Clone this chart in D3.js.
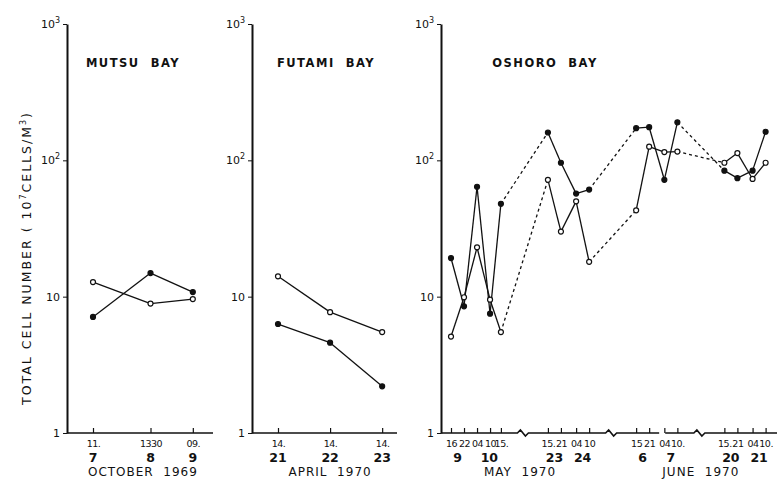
<!DOCTYPE html>
<meta charset="utf-8">
<style>
body { margin: 0; background: #fff; }
svg text { font-family: "DejaVu Sans", sans-serif; fill: #111; }
.line { fill: none; stroke: #111; stroke-width: 1.3px; }
.dash { stroke-dasharray: 3,3; }
.axis path, .axis line { stroke: #111; }
.axis .domain { stroke-width: 2px; }
.xline { fill: none; stroke: #111; stroke-width: 1.6px; }
</style>
<body>
<script src="https://d3js.org/d3.v7.min.js"></script>
<script>

// values, 10^7 cells / m^3 (log axis)
var mutsuTimes = ["1969-10-07 11:00", "1969-10-08 13:30", "1969-10-09 09:00"];
var mutsuHours = ["11.", "1330", "09."];
var mutsuFilled = [7.1, 14.9, 10.8];
var mutsuOpen = [12.8, 8.9, 9.6];

var futamiTimes = ["1970-04-21 14:00", "1970-04-22 14:00", "1970-04-23 14:00"];
var futamiHours = ["14.", "14.", "14."];
var futamiFilled = [6.3, 4.6, 2.2];
var futamiOpen = [14.1, 7.7, 5.5];

var oshoroTimes = [
  "1970-05-09 16:00", "1970-05-09 22:00", "1970-05-10 04:00", "1970-05-10 10:00", "1970-05-10 15:00",
  "1970-05-23 15:00", "1970-05-23 21:00", "1970-05-24 04:00", "1970-05-24 10:00",
  "1970-06-06 15:00", "1970-06-06 21:00", "1970-06-07 04:00", "1970-06-07 10:00",
  "1970-06-20 15:00", "1970-06-20 21:00", "1970-06-21 04:00", "1970-06-21 10:00"];
var oshoroHours = ["16", "22", "04", "10", "15.", "15.", "21", "04", "10",
  "15", "21", "04", "10.", "15.", "21", "04", "10."];
var oshoroFilled = [19.2, 8.5, 64, 7.5, 48, 160, 96, 57, 61, 172, 175, 72, 190, 84, 74, 84, 162];
var oshoroOpen = [5.1, 9.9, 23, 9.5, 5.5, 72, 30, 50, 18, 43, 126, 115, 116, 96, 113, 73, 96];
var oshoroAxisGaps = ["1970-06-07 03:00"];

var yTicks = [1, 10, 100, 1000];

var width = 777, height = 479;
var yTop = 24, yBottom = 433;
var pxPerHour = 2.17;
var breakAfter = 3 * 864e5;   // sampling runs further apart than this sit on a broken axis
var parse = d3.timeParse("%Y-%m-%d %H:%M");

var svg = d3.select("body").append("svg")
    .attr("width", width)
    .attr("height", height);

var y = d3.scaleLog().domain([1, 1000]).range([yBottom, yTop]);

// y axis title
svg.append("text")
    .attr("transform", "translate(31,259) rotate(-90)")
    .attr("text-anchor", "middle")
    .attr("textLength", 292)
    .attr("lengthAdjust", "spacing")
    .style("font-size", "12.5px")
    .html('TOTAL  CELL  NUMBER   ( 10<tspan dy="-5" font-size="8">7</tspan><tspan dy="5">CELLS/M</tspan><tspan dy="-5" font-size="8">3</tspan><tspan dy="5">)</tspan>');

function panel(p) {
  var times = p.times.map(parse);

  var groups = [];
  times.forEach(function(t, i) {
    if (i === 0 || t - times[i - 1] > breakAfter) groups.push([]);
    groups[groups.length - 1].push(i);
  });
  var dom = [], rng = [], cursor = p.axisX + p.inset;
  groups.forEach(function(g) {
    var a = times[g[0]], b = times[g[g.length - 1]];
    dom.push(a, b);
    rng.push(cursor, cursor + pxPerHour * (b - a) / 36e5);
    cursor = rng[rng.length - 1] + p.gap;
  });
  var x = d3.scaleTime().domain(dom).range(rng);

  // y axis
  var ya = svg.append("g")
      .attr("class", "axis")
      .attr("transform", "translate(" + p.axisX + ",0)")
      .call(d3.axisLeft(y).tickValues(yTicks).tickSize(4).tickSizeOuter(0).tickPadding(3));
  ya.selectAll(".tick text").each(function(d) {
    var t = d3.select(this).text(null).style("font-size", "11px");
    if (d < 100) { t.text(d); return; }
    t.text("10");
    t.append("tspan").attr("dy", -5).style("font-size", "8px").text(Math.round(Math.log10(d)));
  });

  // x axis line with breaks
  var events = [];
  for (var k = 1; k < groups.length; k++) events.push({x: (rng[2 * k - 1] + rng[2 * k]) / 2, zig: true});
  (p.axisGaps || []).forEach(function(s) { events.push({x: x(parse(s)), zig: false}); });
  events.sort(function(a, b) { return a.x - b.x; });
  var d = "M" + p.axisX + "," + yBottom;
  events.forEach(function(e) {
    if (e.zig) d += "L" + (e.x - 7) + "," + yBottom + "l3,-3l5,6l3,-3";
    else d += "L" + (e.x - 3) + "," + yBottom + "M" + (e.x + 3) + "," + yBottom;
  });
  d += "L" + p.axisEnd + "," + yBottom;
  svg.append("path").attr("class", "xline").attr("d", d);

  // hour ticks
  var xa = svg.append("g")
      .attr("class", "axis")
      .attr("transform", "translate(0," + yBottom + ")")
      .call(d3.axisBottom(x).tickValues(times).tickSizeInner(-5).tickSizeOuter(0).tickPadding(7)
        .tickFormat(function(d, i) { return p.hours[i]; }));
  xa.select(".domain").remove();
  xa.selectAll(".tick line").style("stroke-width", "1.2px");
  xa.selectAll(".tick text").style("font-size", "9.5px").style("letter-spacing", "-0.5px");

  // day labels
  var fmtDay = d3.timeFormat("%Y-%m-%d");
  d3.groups(times, fmtDay).forEach(function(g) {
    svg.append("text")
        .attr("x", d3.mean(g[1], x))
        .attr("y", 462)
        .attr("text-anchor", "middle")
        .style("font-size", "12.5px")
        .style("font-weight", "bold")
        .text(d3.timeFormat("%-d")(g[1][0]));
  });

  // month labels
  d3.groups(times, d3.timeFormat("%Y-%m")).forEach(function(g) {
    var ext = d3.extent(g[1], x);
    svg.append("text")
        .attr("x", (ext[0] + ext[1]) / 2)
        .attr("y", 476)
        .attr("text-anchor", "middle")
        .style("font-size", "12px")
        .style("letter-spacing", "1px")
        .style("white-space", "pre")
        .text(d3.timeFormat("%B  %Y")(g[1][0]).toUpperCase());
  });

  // title
  svg.append("text")
      .attr("x", p.titleX)
      .attr("y", 67)
      .attr("text-anchor", "middle")
      .style("font-size", "11.5px")
      .style("font-weight", "bold")
      .style("letter-spacing", "1.5px")
      .style("white-space", "pre")
      .text(p.title);

  // series
  [{v: p.open, filled: false}, {v: p.filled, filled: true}].forEach(function(s) {
    var line = d3.line()
        .x(function(i) { return x(times[i]); })
        .y(function(i) { return y(s.v[i]); });
    svg.selectAll(null)
        .data(d3.pairs(d3.range(times.length)))
        .join("path")
        .attr("class", function(d) { return times[d[1]] - times[d[0]] > breakAfter ? "line dash" : "line"; })
        .attr("d", line);
  });
  [{v: p.open, filled: false}, {v: p.filled, filled: true}].forEach(function(s) {
    svg.selectAll(null)
        .data(s.v)
        .join("circle")
        .attr("cx", function(d, i) { return x(times[i]); })
        .attr("cy", function(d) { return y(d); })
        .attr("r", 2.5)
        .attr("fill", s.filled ? "#111" : "#fff")
        .attr("stroke", "#111")
        .attr("stroke-width", 1.2);
  });
}

panel({title: "MUTSU  BAY", titleX: 133, axisX: 67, axisEnd: 213, inset: 26, gap: 47,
  times: mutsuTimes, hours: mutsuHours, filled: mutsuFilled, open: mutsuOpen});
panel({title: "FUTAMI  BAY", titleX: 326, axisX: 252, axisEnd: 397, inset: 26, gap: 47,
  times: futamiTimes, hours: futamiHours, filled: futamiFilled, open: futamiOpen});
panel({title: "OSHORO  BAY", titleX: 545, axisX: 441, axisEnd: 777, inset: 10, gap: 47,
  times: oshoroTimes, hours: oshoroHours, filled: oshoroFilled, open: oshoroOpen,
  axisGaps: oshoroAxisGaps});

</script>
</body>
